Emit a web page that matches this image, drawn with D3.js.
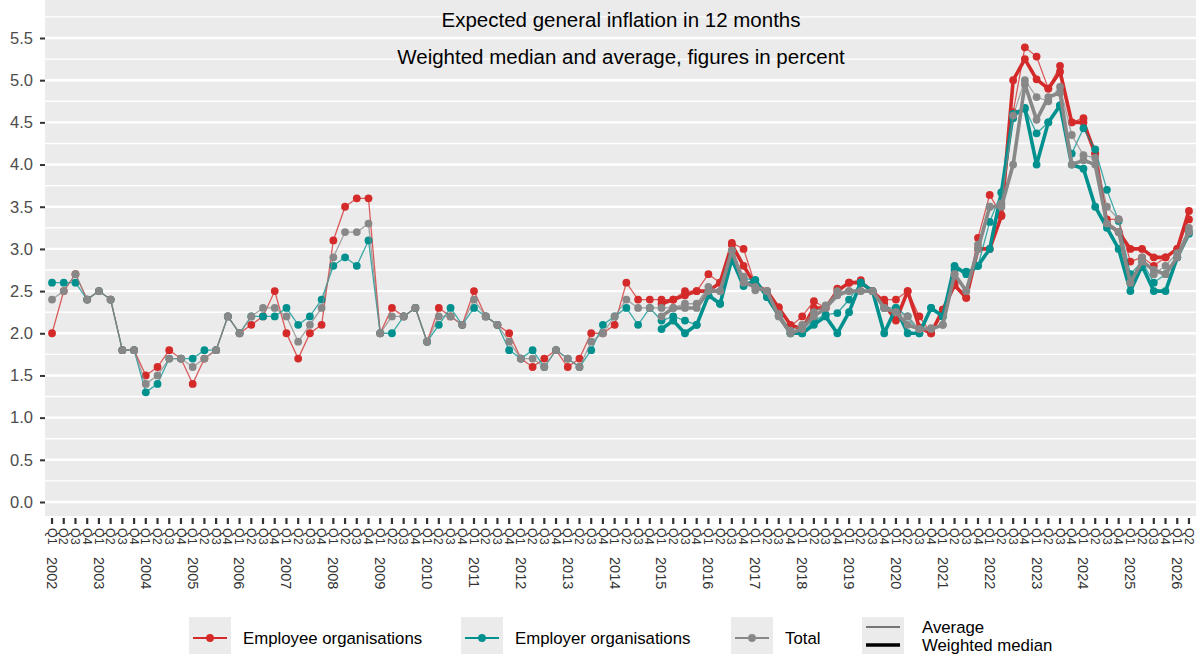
<!DOCTYPE html>
<html>
<head>
<meta charset="utf-8">
<script src="https://cdn.jsdelivr.net/npm/d3@7"></script>
<style>
  html, body { margin: 0; padding: 0; background: #fff; }
  svg { display: block; font-family: "Liberation Sans", Arial, sans-serif; }
</style>
</head>
<body>
<svg id="chart" width="1200" height="654"></svg>
<script>
// ---------------- DATA ----------------
const years = d3.range(2002, 2027);
const quarters = ["Q1", "Q2", "Q3", "Q4"];
// 2002 Q1 ... 2026 Q2
const periods = [];
years.forEach(y => quarters.forEach(q => { if (!(y === 2026 && (q === "Q3" || q === "Q4"))) periods.push(y + " " + q); }));

const yTicks = [0.0, 0.5, 1.0, 1.5, 2.0, 2.5, 3.0, 3.5, 4.0, 4.5, 5.0, 5.5];

const titleLines = ["Expected general inflation in 12 months", "Weighted median and average, figures in percent"];

const seriesNames = ["Employee organisations", "Employer organisations", "Total"];
const seriesColors = ["#d42a2a", "#00918f", "#888888"];

// Averages, 2002 Q1 - 2026 Q2
const employeeAvg = [
  2.0, 2.5, 2.7, 2.4,   2.5, 2.4, 1.8, 1.8,   1.5, 1.6, 1.8, 1.7,   1.4, 1.7, 1.8, 2.2,
  2.0, 2.1, 2.2, 2.5,   2.0, 1.7, 2.0, 2.1,   3.1, 3.5, 3.6, 3.6,   2.0, 2.3, 2.2, 2.3,
  1.9, 2.3, 2.2, 2.1,   2.5, 2.2, 2.1, 2.0,   1.7, 1.6, 1.7, 1.8,   1.6, 1.7, 2.0, 2.0,
  2.1, 2.6, 2.4, 2.4,   2.4, 2.4, 2.5, 2.5,   2.7, 2.6, 3.07, 3.0,  2.57, 2.5, 2.31, 2.08,
  2.2, 2.38, 2.3, 2.53, 2.6, 2.63, 2.5, 2.4,  2.4, 2.5, 2.2, 2.0,   2.28, 2.6, 2.42, 3.13,
  3.64, 3.4, 4.62, 5.39, 5.28, 4.9, 5.17, 4.5, 4.55, 4.13, 3.35, 3.35, 2.85, 2.9, 2.8, 2.9,
  3.0, 3.35
];
const employerAvg = [
  2.6, 2.6, 2.6, 2.4,   2.5, 2.4, 1.8, 1.8,   1.3, 1.4, 1.7, 1.7,   1.7, 1.8, 1.8, 2.2,
  2.0, 2.2, 2.2, 2.2,   2.3, 2.1, 2.2, 2.4,   2.8, 2.9, 2.8, 3.1,   2.0, 2.0, 2.2, 2.3,
  1.9, 2.1, 2.3, 2.1,   2.3, 2.2, 2.1, 1.8,   1.7, 1.8, 1.6, 1.8,   1.7, 1.6, 1.8, 2.1,
  2.2, 2.3, 2.1, 2.3,   2.15, 2.2, 2.15, 2.1, 2.45, 2.35, 2.9, 2.65, 2.63, 2.43, 2.21, 2.0,
  2.0, 2.15, 2.22, 2.24, 2.4, 2.6, 2.5, 2.3, 2.3, 2.2, 2.0, 2.3,   2.2, 2.75, 2.73, 2.8,
  3.32, 3.67, 4.55, 4.67, 4.37, 4.5, 4.7, 4.13, 4.43, 4.18, 3.7, 3.33, 2.7, 2.85, 2.6, 2.7,
  2.9, 3.2
];
const totalAvg = [
  2.4, 2.5, 2.7, 2.4,   2.5, 2.4, 1.8, 1.8,   1.4, 1.5, 1.7, 1.7,   1.6, 1.7, 1.8, 2.2,
  2.0, 2.2, 2.3, 2.3,   2.2, 1.9, 2.1, 2.3,   2.9, 3.2, 3.2, 3.3,   2.0, 2.2, 2.2, 2.3,
  1.9, 2.2, 2.2, 2.1,   2.4, 2.2, 2.1, 1.9,   1.7, 1.7, 1.6, 1.8,   1.7, 1.6, 1.9, 2.0,
  2.2, 2.4, 2.3, 2.3,   2.3, 2.3, 2.35, 2.35, 2.55, 2.5, 2.98, 2.67, 2.51, 2.5, 2.23, 2.03,
  2.1, 2.25, 2.33, 2.5, 2.5, 2.5, 2.5, 2.3,   2.25, 2.2, 2.05, 2.06, 2.1, 2.7, 2.5, 3.05,
  3.5, 3.54, 4.58, 5.0, 4.8, 4.75, 4.92, 4.35, 4.11, 4.08, 3.5, 3.35, 2.6, 2.9, 2.7, 2.8,
  2.95, 3.25
];
// Weighted medians, 2015 Q1 - 2026 Q2
const medianStart = "2015 Q1";
const employeeMed = [
  2.35, 2.4, 2.45, 2.5,  2.5, 2.6, 3.05, 2.8,  2.57, 2.5, 2.3, 2.1,  2.05, 2.3, 2.3, 2.5,
  2.6, 2.6, 2.5, 2.35,   2.15, 2.5, 2.07, 2.0, 2.28, 2.57, 2.42, 3.0, 3.0, 3.39, 5.0, 5.25,
  5.01, 4.9, 5.1, 4.5,   4.5, 4.13, 3.3, 3.2,  3.0, 3.0, 2.9, 2.9,   3.0, 3.45
];
const employerMed = [
  2.05, 2.15, 2.0, 2.1,  2.45, 2.35, 2.88, 2.56, 2.63, 2.43, 2.21, 2.0, 2.0, 2.1, 2.2, 2.0,
  2.25, 2.6, 2.5, 2.0,   2.3, 2.0, 2.0, 2.3,  2.2, 2.8, 2.7, 2.8,   3.0, 3.67, 4.6, 4.66,
  4.0, 4.5, 4.7, 4.0,    3.95, 3.5, 3.25, 3.0, 2.5, 2.8, 2.5, 2.5, 2.9, 3.18
];
const totalMed = [
  2.2, 2.3, 2.3, 2.3,    2.5, 2.5, 2.98, 2.6, 2.55, 2.5, 2.2, 2.0,  2.05, 2.2, 2.3, 2.45,
  2.5, 2.5, 2.5, 2.3,    2.25, 2.1, 2.05, 2.05, 2.1, 2.7, 2.5, 3.0, 3.5, 3.5, 4.0, 4.95,
  4.53, 4.8, 4.85, 4.0,  4.05, 4.0, 3.3, 3.2, 2.6, 2.85, 2.75, 2.7, 2.9, 3.2
];

const avgData = [employeeAvg, employerAvg, totalAvg];
const medData = [employeeMed, employerMed, totalMed];

// ---------------- LAYOUT ----------------
const W = 1200, H = 654;
const panel = { left: 45, right: 1196, top: 0, bottom: 516 };
const svg = d3.select("#chart");

const x = d3.scalePoint().domain(periods).range([panel.left, panel.right]).padding(0.6);
const y = d3.scaleLinear().domain([0, 5.5]).range([502, 38]);

// panel background
svg.append("rect").attr("x", panel.left).attr("y", panel.top)
  .attr("width", panel.right - panel.left).attr("height", panel.bottom - panel.top)
  .attr("fill", "#ebebeb");

// minor gridlines
const minor = d3.range(0.25, 5.8, 0.5);
svg.append("g").selectAll("line").data(minor).join("line")
  .attr("x1", panel.left).attr("x2", panel.right)
  .attr("y1", d => y(d)).attr("y2", d => y(d))
  .attr("stroke", "#fff").attr("stroke-width", 1.4);
// major gridlines
svg.append("g").selectAll("line").data(yTicks).join("line")
  .attr("x1", panel.left).attr("x2", panel.right)
  .attr("y1", d => y(d)).attr("y2", d => y(d))
  .attr("stroke", "#fff").attr("stroke-width", 2.4);

// y axis
const yAxis = svg.append("g").attr("transform", `translate(${panel.left},0)`)
  .call(d3.axisLeft(y).tickValues(yTicks).tickFormat(d3.format(".1f")).tickSize(5).tickPadding(7));
yAxis.select(".domain").remove();
yAxis.selectAll("line").attr("stroke", "#333").attr("stroke-width", 2);
yAxis.selectAll("text").attr("fill", "#4d4d4d").style("font-size", "16.5px")
  .style("font-family", "'Liberation Sans', Arial, sans-serif");

// x axis ticks
const xg = svg.append("g");
xg.selectAll("line").data(periods).join("line")
  .attr("x1", d => x(d)).attr("x2", d => x(d))
  .attr("y1", panel.bottom + 2).attr("y2", panel.bottom + 8)
  .attr("stroke", "#333").attr("stroke-width", 2.2);
xg.selectAll("text.q").data(periods).join("text").attr("class", "q")
  .attr("transform", d => `translate(${x(d)},${panel.bottom + 12}) rotate(90)`)
  .attr("dy", "0.35em").attr("text-anchor", "start")
  .attr("fill", "#333").style("font-size", "12.5px")
  .text(d => d.split(" ")[1]);
xg.selectAll("text.yr").data(periods.filter(p => p.endsWith("Q1"))).join("text").attr("class", "yr")
  .attr("transform", d => `translate(${x(d)},${panel.bottom + 41}) rotate(90)`)
  .attr("dy", "0.35em").attr("text-anchor", "start")
  .attr("fill", "#333").style("font-size", "14.5px")
  .text(d => d.split(" ")[0]);

// series
const line = d3.line().x(d => x(d.p)).y(d => y(d.v));
const medIdx = periods.indexOf(medianStart);

const sg = svg.append("g");
seriesNames.forEach((name, i) => {
  const avg = avgData[i].map((v, k) => ({ p: periods[k], v }));
  const med = medData[i].map((v, k) => ({ p: periods[medIdx + k], v }));
  const g = sg.append("g");
  g.append("path").datum(avg).attr("d", line).attr("fill", "none")
    .attr("stroke", seriesColors[i]).attr("stroke-width", 1.3).attr("stroke-opacity", 0.75);
  g.append("path").datum(med).attr("d", line).attr("fill", "none")
    .attr("stroke", seriesColors[i]).attr("stroke-width", 3.6).attr("stroke-linejoin", "round");
  g.selectAll("circle.a").data(avg).join("circle").attr("class", "a")
    .attr("cx", d => x(d.p)).attr("cy", d => y(d.v)).attr("r", 3.9).attr("fill", seriesColors[i]);
  g.selectAll("circle.m").data(med).join("circle").attr("class", "m")
    .attr("cx", d => x(d.p)).attr("cy", d => y(d.v)).attr("r", 3.9).attr("fill", seriesColors[i]);
});

// titles
svg.append("g").selectAll("text").data(titleLines).join("text")
  .attr("x", 621).attr("y", (d, i) => 27 + i * 37)
  .attr("text-anchor", "middle").attr("fill", "#000")
  .style("font-size", "20.5px").style("font-weight", "normal")
  .text(d => d);

// legend
const leg = svg.append("g");
const legX = [189, 461, 731];
seriesNames.forEach((name, i) => {
  const gx = legX[i];
  leg.append("rect").attr("x", gx).attr("y", 617).attr("width", 42).attr("height", 40).attr("fill", "#ebebeb");
  leg.append("line").attr("x1", gx + 4).attr("x2", gx + 38).attr("y1", 638).attr("y2", 638)
    .attr("stroke", seriesColors[i]).attr("stroke-width", 2.2);
  leg.append("circle").attr("cx", gx + 21).attr("cy", 638).attr("r", 3.9).attr("fill", seriesColors[i]);
  leg.append("text").attr("x", gx + 54).attr("y", 638).attr("dy", "0.35em")
    .attr("fill", "#000").style("font-size", "16.8px").text(name);
});
// linetype/width legend
leg.append("rect").attr("x", 862).attr("y", 617).attr("width", 42).attr("height", 40).attr("fill", "#ebebeb");
leg.append("line").attr("x1", 866).attr("x2", 900).attr("y1", 627).attr("y2", 627).attr("stroke", "#000").attr("stroke-width", 1);
leg.append("line").attr("x1", 866).attr("x2", 900).attr("y1", 645).attr("y2", 645).attr("stroke", "#000").attr("stroke-width", 3.6);
leg.append("text").attr("x", 922).attr("y", 627).attr("dy", "0.35em").style("font-size", "16.8px").text("Average");
leg.append("text").attr("x", 922).attr("y", 645).attr("dy", "0.35em").style("font-size", "16.8px").text("Weighted median");
</script>
</body>
</html>
